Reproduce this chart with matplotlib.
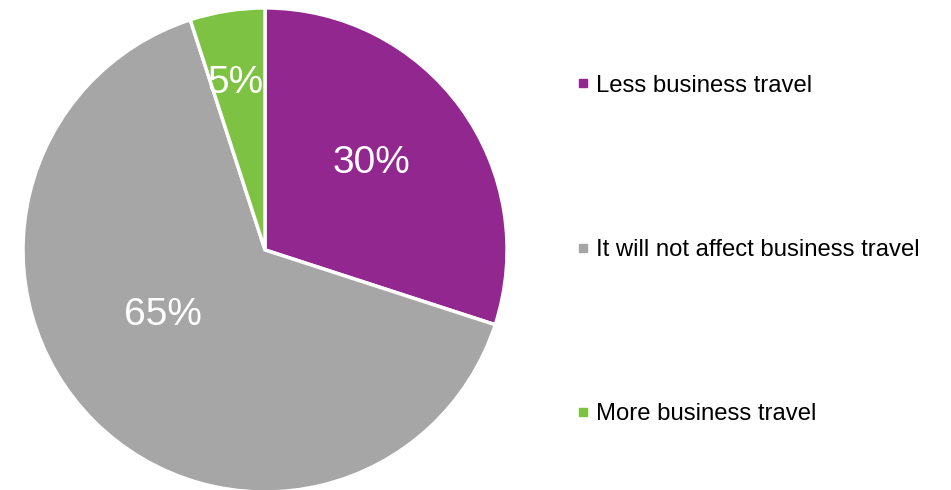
import matplotlib.pyplot as plt
from matplotlib.lines import Line2D

labels = ['Less business travel', 'It will not affect business travel', 'More business travel']
values = [30, 65, 5]
colors = ['#92278F', '#A6A6A6', '#7DC242']
# label positions (x, y) in pie units
label_pos = [(0.44, 0.36), (-0.42, -0.27), (-0.12, 0.69)]

plt.rcParams['font.family'] = ['Liberation Sans', 'DejaVu Sans']

fig = plt.figure(figsize=(9.51, 4.90), dpi=100)
ax = fig.add_axes([0.0242, -0.0041, 0.509, 0.988])

wedges, texts, autotexts = ax.pie(values, colors=colors, startangle=90, counterclock=False,
                                  autopct='%d%%', radius=1,
                                  wedgeprops=dict(edgecolor='white', linewidth=2.5),
                                  textprops=dict(color='white', fontsize=28))
for t, pos in zip(autotexts, label_pos):
    t.set_position(pos)
ax.set_xlim(-1, 1)
ax.set_ylim(-1, 1)
ax.set_aspect('equal')

handles = [Line2D([], [], marker='s', linestyle='none', markersize=6,
                  markerfacecolor=c, markeredgecolor=c) for c in colors]
fig.legend(handles, labels, loc='center left', bbox_to_anchor=(0.584, 0.490),
           frameon=False, fontsize=17.2, labelspacing=5.95, handletextpad=0.32,
           handlelength=0.5)

plt.savefig('out.png', dpi=100)
